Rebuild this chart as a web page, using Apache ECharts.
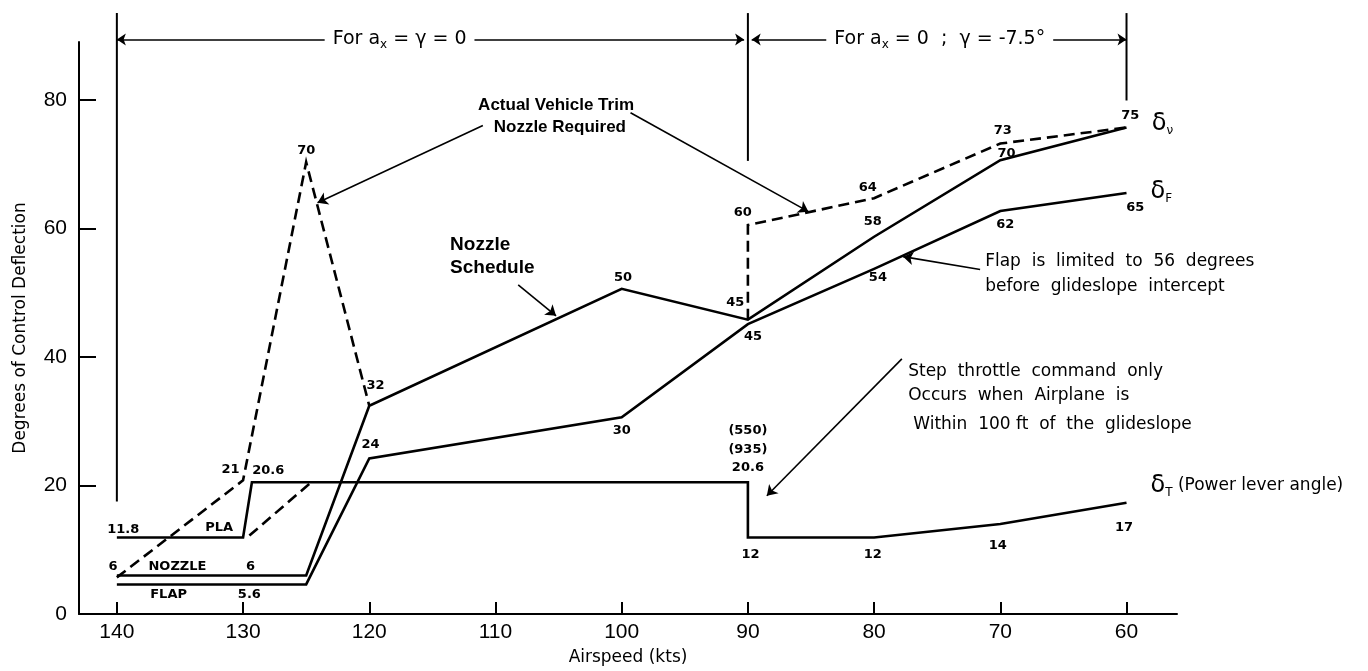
<!DOCTYPE html>
<html><head><meta charset="utf-8">
<script src="https://cdn.jsdelivr.net/npm/echarts@6/dist/echarts.min.js"></script>
<style>html,body{margin:0;background:#fff}#c{width:1368px;height:671px}</style>
</head><body><div id="c"></div><script>
// ---- data (airspeed kts, degrees) ----
const nozzleSchedule = [[140,6],[125,6],[120,32.4],[100,50.6],[90,45.8],[80,58.7],[70,70.6],[60,75.7]];
const trimRequiredLow = [[140,5.7],[130,20.8],[125,70.3],[120,32.4]];
const trimRequiredHigh = [[90,45.8],[90,60.5],[80,64.7],[70,73.2],[60,75.7]];
const plaRequired = [[129.5,12.2],[124.6,20.5]];
const flap = [[140,4.6],[125,4.6],[120,24.2],[100,30.6],[90,45.1],[80,53.7],[70,62.7],[60,65.5]];
const pla = [[140,11.9],[130,11.9],[129.3,20.5],[90,20.5],[90,11.9],[80,11.9],[70,14],[60,17.3]];
const xTicks = [140,130,120,110,100,90,80,70,60];
const yTicks = [0,20,40,60,80];
// value labels [text, airspeed, degrees]
const pointLabels = [
  ['70',125.0,72.1],['21',131.0,22.5],['20.6',128.0,22.3],['11.8',139.5,13.2],['PLA',131.9,13.5],
  ['6',140.3,7.3],['NOZZLE',135.2,7.3],['6',129.4,7.3],['FLAP',135.9,3.0],['5.6',129.5,3.0],
  ['32',119.5,35.6],['24',119.9,26.3],['50',99.9,52.4],['45',91.0,48.5],['45',89.6,43.1],['30',100.0,28.6],
  ['(550)',90.0,28.5],['(935)',90.0,25.5],['20.6',90.0,22.8],
  ['60',90.4,62.4],['64',80.5,66.4],['58',80.1,61.0],['54',79.7,52.4],['62',69.6,60.6],['70',69.5,71.7],
  ['73',69.8,75.2],['75',59.7,77.5],['65',59.3,63.3],
  ['12',89.8,9.3],['12',80.1,9.3],['14',70.2,10.6],['17',60.2,13.5]
];
// annotation guides
const guideLines = [[[140,93.5],[140,17.5]],[[90,93.5],[90,70.5]],[[60,93.5],[60,79.9]]];
const rangeArrows = [[[140,89.4],[90.3,89.4]],[[89.7,89.4],[60,89.4]]];
const pointerArrows = [
  [[111.0,76.0],[124.1,64.0]],[[99.3,78.0],[85.2,62.6]],[[108.2,51.2],[105.2,46.4]],
  [[71.6,53.6],[77.7,55.6]],[[77.8,39.7],[88.5,18.4]]
];
// notes: [text, airspeed, degrees, align, style]
const notes = [
  ['{a|For a}{s|x}{a| = γ = 0}',117.6,89.4,'center','range'],
  ['{a|For a}{s|x}{a| = 0  ;  γ = -7.5°}',74.8,89.4,'center','range'],
  ['Actual Vehicle Trim',105.2,79.2,'center','bold'],
  ['Nozzle Required',104.9,75.8,'center','bold'],
  ['Nozzle',113.6,57.5,'left','bold2'],
  ['Schedule',113.6,53.9,'left','bold2'],
  ['Flap  is  limited  to  56  degrees',71.2,54.9,'left','plain'],
  ['before  glideslope  intercept',71.2,51.0,'left','plain'],
  ['Step  throttle  command  only',77.3,37.7,'left','plain'],
  ['Occurs  when  Airplane  is',77.3,34.0,'left','plain'],
  ['Within  100 ft  of  the  glideslope',76.9,29.5,'left','plain'],
  ['{d|δ}{s|ν}',58.0,76.3,'left','sym'],
  ['{d|δ}{s|F}',58.1,65.7,'left','sym'],
  ['{d|δ}{s|T}{a| (Power lever angle)}',58.1,20.0,'left','sym']
];

const FONT = 'Liberation Sans, Arial, sans-serif';
const WIDE = 'DejaVu Sans, sans-serif';
const chart = echarts.init(document.getElementById('c'));
function solid(data, dashed){
  return {type:'line', data, symbol:'none', clip:false, silent:true,
    lineStyle:{color:'#000', width:2.6, type: dashed ? [11,6] : 'solid', cap:'butt', join:'miter'}};
}
const series = [
  solid(nozzleSchedule), solid(flap), solid(pla),
  solid(trimRequiredLow, true), solid(trimRequiredHigh, true), solid(plaRequired, true)
];
guideLines.forEach(g => series.push({type:'line', data:g, symbol:'none', clip:false, silent:true,
  lineStyle:{color:'#000', width:2}}));
series.push({type:'lines', coordinateSystem:'cartesian2d', clip:false, silent:true,
  symbol:['arrow','arrow'], symbolSize:9,
  lineStyle:{color:'#000', width:1.6, opacity:1},
  data: rangeArrows.map(c => ({coords:c}))});
series.push({type:'lines', coordinateSystem:'cartesian2d', clip:false, silent:true,
  symbol:['none','arrow'], symbolSize:10,
  lineStyle:{color:'#000', width:1.6, opacity:1},
  data: pointerArrows.map(c => ({coords:c}))});

chart.setOption({
  animation:false,
  backgroundColor:'#fff',
  grid:{left:79, right:191, top:42, bottom:54, containLabel:false},
  xAxis:{type:'value', inverse:true, min:56, max:143,
    name:'Airspeed (kts)', nameLocation:'middle', nameGap:35,
    nameTextStyle:{fontFamily:WIDE, fontSize:17, color:'#000'},
    axisLine:{lineStyle:{color:'#000', width:2}},
    axisTick:{inside:true, length:12, customValues:xTicks, lineStyle:{color:'#000', width:2}},
    axisLabel:{customValues:xTicks, fontFamily:FONT, fontSize:21, color:'#000', margin:8},
    splitLine:{show:false}},
  yAxis:{type:'value', min:0, max:89,
    name:'Degrees of Control Deflection', nameLocation:'middle', nameGap:50,
    nameTextStyle:{fontFamily:WIDE, fontSize:17, color:'#000'},
    axisLine:{lineStyle:{color:'#000', width:2}},
    axisTick:{inside:true, length:17, customValues:yTicks, lineStyle:{color:'#000', width:2}},
    axisLabel:{customValues:yTicks, fontFamily:FONT, fontSize:21, color:'#000', margin:12},
    splitLine:{show:false}},
  series
});

function px(v,d){ return chart.convertToPixel({gridIndex:0},[v,d]); }
const graphics = [];
pointLabels.forEach(([t,v,d]) => {
  const p = px(v,d);
  graphics.push({type:'text', x:p[0], y:p[1], silent:true,
    style:{text:t, fontFamily:WIDE, fontSize:13, fontWeight:'bold', fill:'#000',
      align:'center', verticalAlign:'middle', textAlign:'center', textVerticalAlign:'middle'}});
});
notes.forEach(([t,v,d,al,kind]) => {
  const p = px(v,d);
  const st = {text:t, fontFamily:WIDE, fill:'#000', align:al, verticalAlign:'middle',
    textAlign:al, textVerticalAlign:'middle'};
  if (kind === 'range') {
    Object.assign(st, {backgroundColor:'#fff', padding:[2,8],
      rich:{a:{fontFamily:WIDE, fontSize:19, color:'#000'}, s:{fontFamily:WIDE, fontSize:12, color:'#000', padding:[10,0,0,0]}}});
  } else if (kind === 'sym') {
    Object.assign(st, {rich:{d:{fontFamily:WIDE, fontSize:24, color:'#000'},
      s:{fontFamily:WIDE, fontSize:12, color:'#000', padding:[14,0,0,0]},
      a:{fontFamily:WIDE, fontSize:17, color:'#000'}}});
  } else if (kind === 'bold') {
    st.fontFamily = FONT; st.fontSize = 17; st.fontWeight = 'bold';
  } else if (kind === 'bold2') {
    st.fontFamily = FONT; st.fontSize = 19; st.fontWeight = 'bold';
  } else {
    st.fontSize = 17;
  }
  graphics.push({type:'text', x:p[0], y:p[1], silent:true, z:100, style:st});
});
chart.setOption({graphic:{elements:graphics}});
</script></body></html>
